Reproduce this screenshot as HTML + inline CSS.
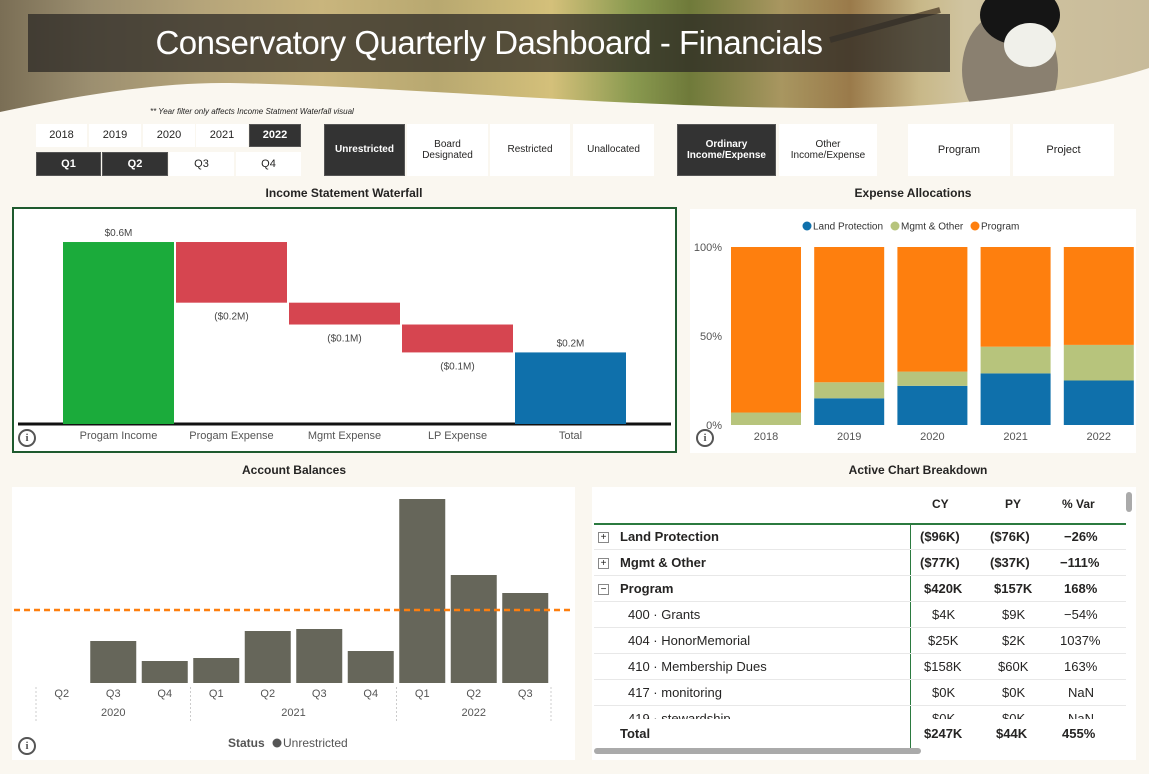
<!DOCTYPE html>
<html><head><meta charset="utf-8">
<style>
*{box-sizing:border-box;margin:0;padding:0}
body{width:1149px;height:774px;background:#faf7f0;font-family:"Liberation Sans",sans-serif;position:relative;overflow:hidden;color:#252423}
.abs{position:absolute}
.btn{position:absolute;background:#fff;font-size:11px;display:flex;align-items:center;justify-content:center;text-align:center;line-height:1.15;color:#252423}
.btn.on{background:#333;color:#fff;font-weight:bold;border:1px solid #555}
.title{position:absolute;font-size:12px;font-weight:bold;text-align:center;transform:translateX(-50%);white-space:nowrap}
.panel{position:absolute;background:#fff}
.info{position:absolute;width:18px;height:18px;border:2px solid #555;border-radius:50%;font-size:11px;font-weight:bold;color:#555;text-align:center;line-height:14px;font-family:"Liberation Serif",serif}
.row{position:absolute;left:0;width:532px;height:26px;border-bottom:1px solid #e8e8e8;font-size:13px}
.row span{position:absolute;top:5px}
</style></head><body>
<div class="abs" style="left:0;top:0;width:1149px;height:120px;background:linear-gradient(90deg,#7a6e55 0%,#9c8f70 8%,#b6a57a 18%,#c9b57d 28%,#b8a870 38%,#d4c07a 48%,#8a9a50 55%,#6f7a3a 60%,#a89660 68%,#9a7a4a 74%,#c8b888 80%,#d0c4a0 84%,#c8bb9a 100%)"></div>
<svg class="abs" style="left:0;top:0" width="1149" height="120">
 <ellipse cx="1010" cy="70" rx="48" ry="60" fill="#8a8070"/>
 <ellipse cx="1020" cy="15" rx="40" ry="30" fill="#151515"/>
 <ellipse cx="1030" cy="45" rx="26" ry="22" fill="#f0f0ea"/>
 <path d="M830,40 L940,10" stroke="#6a5a40" stroke-width="6"/>
</svg>
<svg class="abs" style="left:0;top:0" width="1149" height="120"><path d="M0,112 C80,95 160,82 230,83 C400,86 650,110 850,108 C980,106 1080,90 1149,68 L1149,120 L0,120 Z" fill="#faf7f0"/></svg>
<div class="abs" style="left:28px;top:14px;width:922px;height:58px;background:rgba(40,38,35,0.72)"></div>
<div class="abs" style="left:28px;top:14px;width:922px;height:58px;color:#fff;font-size:33px;text-align:center;line-height:58px;letter-spacing:-0.5px">Conservatory Quarterly Dashboard - Financials</div>
<div class="abs" style="left:150px;top:107px;font-size:8px;font-style:italic">** Year filter only affects Income Statment Waterfall visual</div>

<div class="btn" style="left:36px;top:124px;width:51px;height:23px">2018</div>
<div class="btn" style="left:89px;top:124px;width:52px;height:23px">2019</div>
<div class="btn" style="left:143px;top:124px;width:52px;height:23px">2020</div>
<div class="btn" style="left:196px;top:124px;width:52px;height:23px">2021</div>
<div class="btn on" style="left:249px;top:124px;width:52px;height:23px">2022</div>
<div class="btn on" style="left:36px;top:152px;width:65px;height:24px">Q1</div>
<div class="btn on" style="left:102px;top:152px;width:66px;height:24px">Q2</div>
<div class="btn" style="left:169px;top:152px;width:65px;height:24px">Q3</div>
<div class="btn" style="left:236px;top:152px;width:65px;height:24px">Q4</div>

<div class="btn on" style="left:324px;top:124px;width:81px;height:52px;font-size:10px">Unrestricted</div>
<div class="btn" style="left:407px;top:124px;width:81px;height:52px;font-size:10px">Board<br>Designated</div>
<div class="btn" style="left:490px;top:124px;width:80px;height:52px;font-size:10px">Restricted</div>
<div class="btn" style="left:573px;top:124px;width:81px;height:52px;font-size:10px">Unallocated</div>
<div class="btn on" style="left:677px;top:124px;width:99px;height:52px;font-size:10px">Ordinary<br>Income/Expense</div>
<div class="btn" style="left:779px;top:124px;width:98px;height:52px;font-size:10px">Other<br>Income/Expense</div>
<div class="btn" style="left:908px;top:124px;width:102px;height:52px">Program</div>
<div class="btn" style="left:1013px;top:124px;width:101px;height:52px">Project</div>

<div class="title" style="left:344px;top:186px">Income Statement Waterfall</div>
<div class="title" style="left:913px;top:186px">Expense Allocations</div>
<div class="title" style="left:294px;top:463px">Account Balances</div>
<div class="title" style="left:918px;top:463px">Active Chart Breakdown</div>

<div class="panel" style="left:12px;top:207px;width:665px;height:246px;border:2px solid #1e5a2e"></div>
<svg class="abs" id="wf" style="left:0;top:0" width="690" height="460"></svg>
<div class="info" style="left:18px;top:429px">i</div>

<div class="panel" style="left:690px;top:209px;width:446px;height:244px"></div>
<svg class="abs" id="ea" style="left:0;top:0" width="1149" height="460"></svg>
<div class="info" style="left:696px;top:429px">i</div>

<div class="panel" style="left:12px;top:487px;width:563px;height:273px"></div>
<svg class="abs" id="ab" style="left:0;top:0" width="600" height="774"></svg>
<div class="info" style="left:18px;top:737px">i</div>

<div class="panel" style="left:592px;top:487px;width:544px;height:273px">
 <div class="abs" style="left:0;top:0;width:532px;height:36px;font-size:12px;font-weight:bold">
  <span class="abs" style="left:340px;top:10px">CY</span><span class="abs" style="left:413px;top:10px">PY</span><span class="abs" style="left:470px;top:10px">% Var</span>
 </div>
 <div class="abs" style="left:2px;top:36px;width:532px;height:2px;background:#2b7a3f"></div>
 <div class="abs" style="left:318px;top:36px;width:1px;height:226px;background:#2b7a3f"></div>
 <div class="abs" style="left:534px;top:5px;width:6px;height:20px;background:#aaa;border-radius:3px"></div>
 <div class="abs" style="left:2px;top:261px;width:327px;height:6px;background:#aaa;border-radius:3px"></div>
 <div id="rows" class="abs" style="left:2px;top:37px;width:532px;height:195px;overflow:hidden"></div>
 <div class="abs" style="left:0;top:239px;width:532px;font-size:13px;font-weight:bold">
  <span class="abs" style="left:28px">Total</span><span class="abs" style="left:332px">$247K</span><span class="abs" style="left:404px">$44K</span><span class="abs" style="left:470px">455%</span>
 </div>
</div>

<script>
const NS='http://www.w3.org/2000/svg';
function mk(svg,tag,attrs,txt){const e=document.createElementNS(NS,tag);for(const k in attrs)e.setAttribute(k,attrs[k]);if(txt!==undefined)e.textContent=txt;svg.appendChild(e);return e;}

// Waterfall
const wfCats=['Progam Income','Progam Expense','Mgmt Expense','LP Expense','Total'];
const wfVals=[0.6,-0.2,-0.072,-0.092,0.236];
const wfLabels=['$0.6M','($0.2M)','($0.1M)','($0.1M)','$0.2M'];
(function(){
 const s=document.getElementById('wf');const y0=424,k=303.3;const yS=v=>y0-v*k;const x0=63,step=113,w=111;
 mk(s,'line',{x1:18,x2:671,y1:y0,y2:y0,stroke:'#111','stroke-width':3});
 let run=0;
 wfVals.forEach((v,i)=>{
  const isTot=i===wfVals.length-1;let a,b,col;
  if(isTot){a=0;b=v;col='#0f70ab';}else{a=run;b=run+v;run=b;col=v>=0?'#1bab3b':'#d64550';}
  const top=yS(Math.max(a,b)),bot=yS(Math.min(a,b));const x=x0+i*step;
  const r=mk(s,'rect',{x:x,y:top,width:w,height:bot-top,fill:col});
  
  
  const ly=v>=0?top-6:bot+17;
  const t=mk(s,'text',{x:x+w/2,y:ly,'text-anchor':'middle','font-size':10,fill:'#444'},wfLabels[i]);
  
  
  const c=mk(s,'text',{x:x+w/2,y:439,'text-anchor':'middle','font-size':11,fill:'#555'},wfCats[i]);
  
  
 });
})();

// Expense allocations
const eaYears=['2018','2019','2020','2021','2022'];
const eaLand=[0,15,22,29,25];
const eaMgmt=[7,9,8,15,20];
const eaProg=[93,76,70,56,55];
const eaTicks=[0,50,100];
(function(){
 const s=document.getElementById('ea');const y0=425,h=178;const yS=p=>y0-p/100*h;
 eaTicks.forEach(t=>{const e=mk(s,'text',{x:722,y:yS(t)+4,'text-anchor':'end','font-size':11,fill:'#555'},t+'%');
  
  });
 const lg=[['Land Protection','#0f70ab',802],['Mgmt & Other','#b7c47c',890],['Program','#fe7f0e',970]];
 lg.forEach(l=>{mk(s,'circle',{cx:l[2]+5,cy:226,r:4.5,fill:l[1]});const e=mk(s,'text',{x:l[2]+11,y:229.5,'font-size':10,fill:'#333'},l[0]);
  
  });
 const step=83.2,w=70,x0=731;
 eaYears.forEach((yr,i)=>{
  const x=x0+i*step;let acc=0;
  [[eaLand[i],'#0f70ab'],[eaMgmt[i],'#b7c47c'],[eaProg[i],'#fe7f0e']].forEach(p=>{
   const r=mk(s,'rect',{x:x,y:yS(acc+p[0]),width:w,height:p[0]/100*h,fill:p[1]});
   
   
   acc+=p[0];});
  const t=mk(s,'text',{x:x+w/2,y:440,'text-anchor':'middle','font-size':11,fill:'#555'},yr);
  
  
 });
})();

// Account balances
const abQuarters=['Q2','Q3','Q4','Q1','Q2','Q3','Q4','Q1','Q2','Q3'];
const abValues=[0,42,22,25,52,54,32,184,108,90];
const abYears=['2020','2021','2022'];
const abYearSpan=[[0,2],[3,6],[7,9]];
const abRef=73;
(function(){
 const s=document.getElementById('ab');const y0=683,x0=36,step=51.5,w=46;const yS=v=>y0-v;
 abValues.forEach((v,i)=>{const x=x0+i*step+(step-w)/2;
  if(v>0){const r=mk(s,'rect',{x:x,y:yS(v),width:w,height:v,fill:'#66665a'});
   
   }
  const t=mk(s,'text',{x:x0+i*step+step/2,y:697,'text-anchor':'middle','font-size':11,fill:'#555'},abQuarters[i]);
  
  
 });
 mk(s,'line',{x1:14,x2:573,y1:yS(abRef),y2:yS(abRef),stroke:'#fe7f0e','stroke-width':2.5,'stroke-dasharray':'6,4'});
 abYears.forEach((y,i)=>{const a=abYearSpan[i][0],b=abYearSpan[i][1]+1;
  mk(s,'line',{x1:x0+a*step,x2:x0+a*step,y1:687,y2:722,stroke:'#ccc','stroke-dasharray':'2,2'});
  const t=mk(s,'text',{x:x0+(a+b)/2*step,y:716,'text-anchor':'middle','font-size':11,fill:'#555'},y);
  
  });
 mk(s,'line',{x1:x0+10*step,x2:x0+10*step,y1:687,y2:722,stroke:'#ccc','stroke-dasharray':'2,2'});
 mk(s,'text',{x:228,y:747,'font-size':12,'font-weight':'bold',fill:'#555'},'Status');
 mk(s,'circle',{cx:277,cy:743,r:4.5,fill:'#555'});
 const l=mk(s,'text',{x:283,y:747,'font-size':12,fill:'#555'},'Unrestricted');
 
 
})();

// Table
const tbl=[['+','Land Protection','($96K)','($76K)','−26%',1],['+','Mgmt & Other','($77K)','($37K)','−111%',1],['−','Program','$420K','$157K','168%',1],
['','400 · Grants','$4K','$9K','−54%',0],['','404 · HonorMemorial','$25K','$2K','1037%',0],['','410 · Membership Dues','$158K','$60K','163%',0],
['','417 · monitoring','$0K','$0K','NaN',0],['','419 · stewardship','$0K','$0K','NaN',0]];
(function(){
 const c=document.getElementById('rows');
 tbl.forEach((r,i)=>{const d=document.createElement('div');d.className='row';d.style.top=(i*26)+'px';
  
  
  if(r[5])d.style.fontWeight='bold';
  d.innerHTML=(r[0]?'<span style="left:4px;top:8px;width:11px;height:11px;border:1px solid #888;font-size:10px;line-height:9px;text-align:center;font-weight:normal">'+r[0]+'</span>':'')+
   '<span style="left:'+(r[5]?26:34)+'px">'+r[1]+'</span><span style="left:'+(350-r[2].length*4)+'px">'+r[2]+'</span><span style="left:'+(420-r[3].length*4)+'px">'+r[3]+'</span><span style="left:'+(486-r[4].length*4)+'px">'+r[4]+'</span>';
  c.appendChild(d);});
})();
</script>
</body></html>
